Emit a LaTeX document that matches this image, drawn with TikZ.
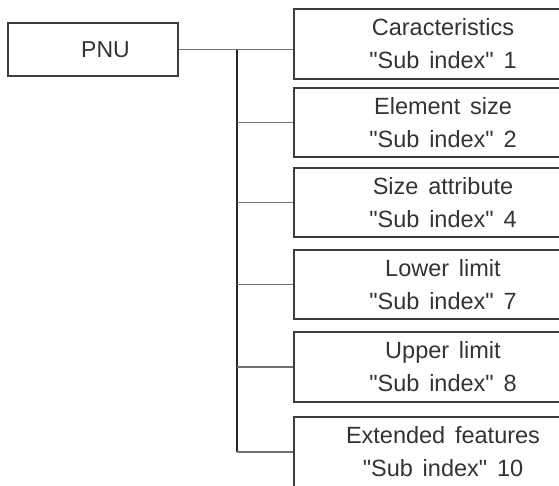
\documentclass[tikz,border=0pt]{standalone}
\usepackage{fontspec}
\setmainfont[WordSpace=1.5]{Liberation Sans}
\definecolor{txtgray}{HTML}{333333}
\definecolor{boxgray}{HTML}{3C3C3C}
\definecolor{lingray}{HTML}{707070}
\newcommand\dq{\textquotedbl}
\begin{document}
\begin{tikzpicture}[x=1pt,y=-1pt,
  boxsty/.style={draw=boxgray, line width=1.2pt, rectangle, inner sep=0pt,
    minimum width=298pt, text=txtgray, align=center,
    font=\fontsize{23.5}{33}\selectfont},
  pnusty/.style={draw=boxgray, line width=1.2pt, rectangle, inner sep=0pt,
    minimum width=170pt, minimum height=53pt, text=txtgray,
    font=\fontsize{23}{33}\selectfont},
  conn/.style={draw=lingray, line width=1.2pt},
  trunksty/.style={draw=black!85, line width=1.2pt}]
\useasboundingbox (0,0) rectangle (559,485);
\clip (0,0) rectangle (559,485);
\node[pnusty] (pnu) at (93,49.5) {\hspace{25pt}PNU};
\node[boxsty, minimum height=70pt] (b1) at (443,44) {Caracteristics\\\dq Sub index\dq\ 1};
\node[boxsty, minimum height=69pt] (b2) at (443,122.5) {Element size\\\dq Sub index\dq\ 2};
\node[boxsty, minimum height=69pt] (b3) at (443,202.5) {Size attribute\\\dq Sub index\dq\ 4};
\node[boxsty, minimum height=69pt] (b4) at (443,284.5) {Lower limit\\\dq Sub index\dq\ 7};
\node[boxsty, minimum height=70pt] (b5) at (443,367) {Upper limit\\\dq Sub index\dq\ 8};
\node[boxsty, minimum height=70pt] (b6) at (443,452) {Extended features\\\dq Sub index\dq\ 10};
\coordinate (j) at (237,49.5);
\draw[conn] (pnu.east) -- (b1.west |- pnu.east);
\draw[trunksty] (j) -- (j |- b6.west);
\foreach \b in {b2,b3,b4,b5,b6}
  \draw[conn] (j |- \b.west) -- (\b.west);
\end{tikzpicture}
\end{document}
